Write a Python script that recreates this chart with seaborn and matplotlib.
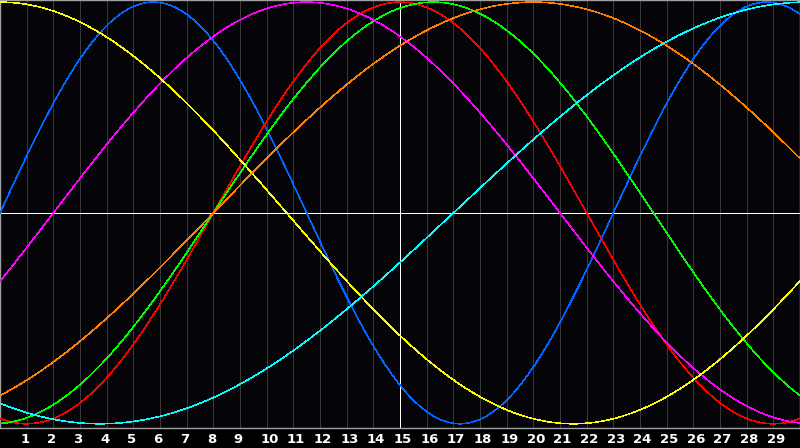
import numpy as np
import pandas as pd
import matplotlib
matplotlib.use("Agg")
import matplotlib.pyplot as plt
import matplotlib.transforms as mtransforms
import seaborn as sns

# cycle data: period (days) and upward zero-crossing day
cycles = ['physical', 'emotional', 'intellectual', 'intuitive', 'aesthetic', 'awareness', 'spiritual']
periods = [23, 28, 33, 38, 43, 48, 53]
zero_days = [0.0, 8.0, 8.0, 2.0, -10.75, 8.0, 17.0]
colors = ['#0066ff', '#ff0000', '#00ff00', '#ff00ff', '#ffff00', '#ff8000', '#00ffff']

day_labels = list(range(1, 30))
today = 15
first_day, last_day = 0, 30

# build long-form table of the cycles
days = np.linspace(first_day, last_day, 1201)
rows = []
for name, p, z in zip(cycles, periods, zero_days):
    rows.append(pd.DataFrame({'day': days, 'value': np.sin(2 * np.pi * (days - z) / p), 'cycle': name}))
df = pd.concat(rows, ignore_index=True)

sns.set_style("dark")
fig = plt.figure(figsize=(8, 4.48), dpi=100, facecolor='black')
ax = fig.add_axes([0, 20 / 448, 1, 428 / 448])
ax.set_facecolor('#050408')

# day grid
for d in day_labels:
    ax.axvline(d, color='#3a3a3a', lw=0.6, zorder=1, antialiased=False)
ax.axvline(today, color='white', lw=0.6, zorder=2, antialiased=False)
ax.axhline(0, color='white', lw=0.6, zorder=2, antialiased=False)

sns.lineplot(data=df, x='day', y='value', hue='cycle', hue_order=cycles,
             palette=dict(zip(cycles, colors)), estimator=None, sort=False,
             lw=0.4, legend=False, ax=ax, zorder=3, antialiased=False)

ax.set_xlim(first_day, last_day)
ax.set_ylim(-1.02, 1.01)
ax.set_yticks([])
ax.set_xticks(day_labels)
ax.set_xticklabels([str(d) for d in day_labels], color='white', fontsize=9.5,
                   fontweight='bold', family='DejaVu Sans')
ax.tick_params(axis='x', length=0, pad=3.5)
offset = mtransforms.ScaledTranslation(-6.5 / 100, 0, fig.dpi_scale_trans)
for lab in ax.get_xticklabels():
    lab.set_ha('left')
    lab.set_transform(lab.get_transform() + offset)
ax.set_xlabel('')
ax.set_ylabel('')
ax.grid(False)
for s in ax.spines.values():
    s.set_visible(True)
    s.set_color('#a0a0a0')
    s.set_linewidth(1.0)

fig.savefig('out.png', dpi=100, facecolor='black')
